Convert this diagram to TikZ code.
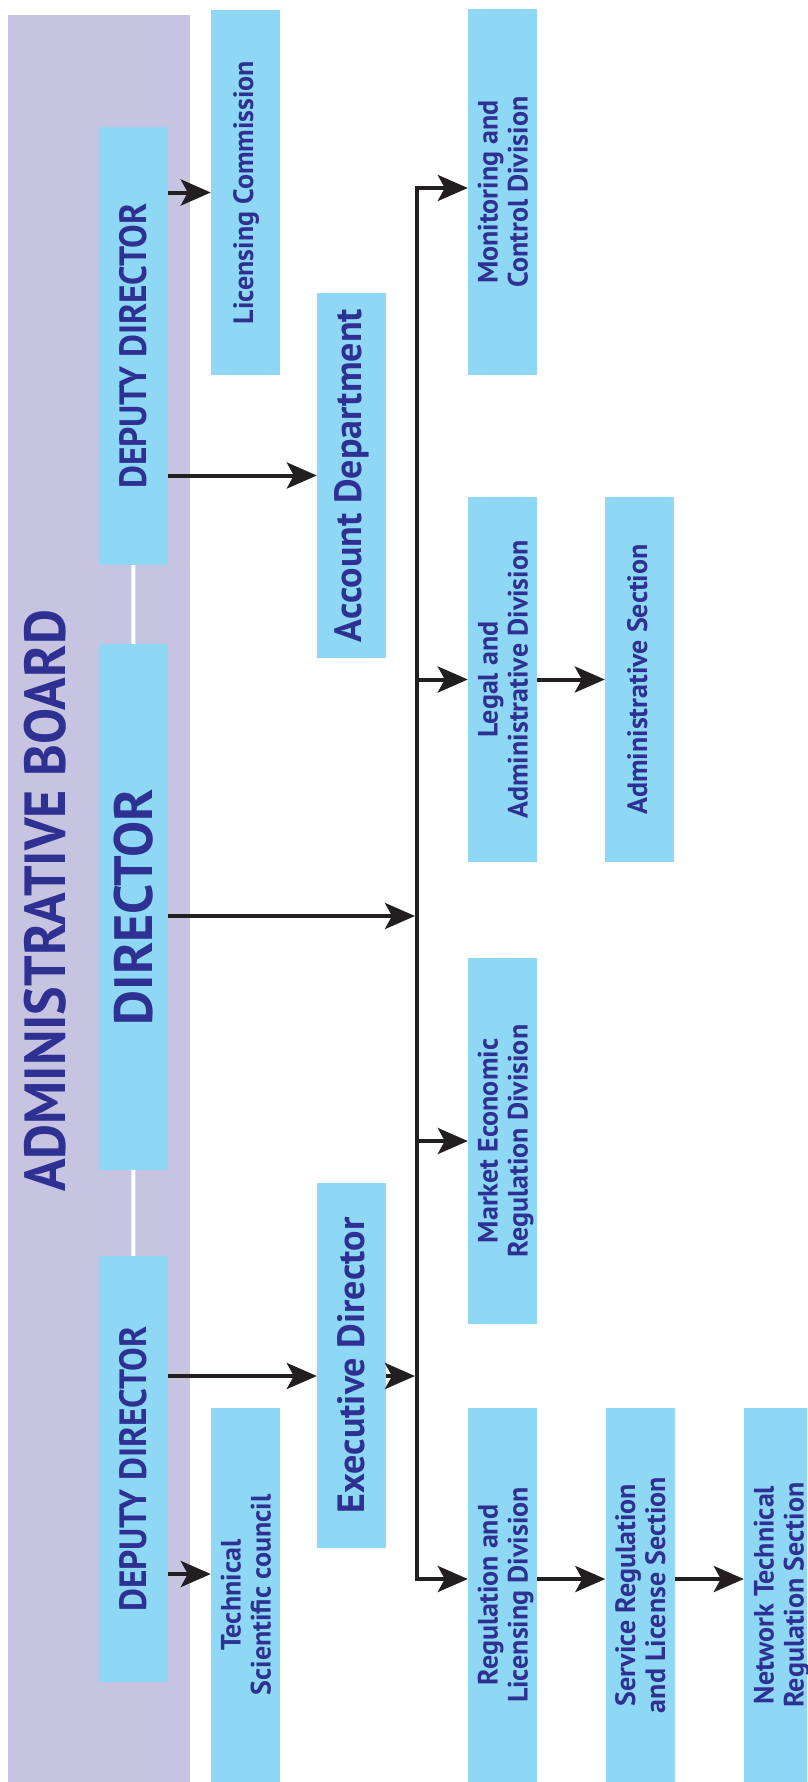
\documentclass[tikz,border=0pt]{standalone}
\usepackage{fontspec}
\setmainfont{PT Sans}
\usepackage{graphicx}
\usetikzlibrary{arrows.meta}
\definecolor{lav}{HTML}{C6C4E1}
\definecolor{boxblue}{HTML}{8ED8F6}
\definecolor{txtblue}{HTML}{2E3192}
\definecolor{arrowc}{HTML}{231F20}
\newcommand{\rtwo}[1]{\hspace*{8pt}\rotatebox{90}{\begin{tabular}{@{}c@{}}#1\end{tabular}}}
\newcommand{\rone}[1]{\hspace*{3pt}\rotatebox{90}{\begin{tabular}{@{}c@{}}#1\end{tabular}}}
\newcommand{\rbig}[1]{\rotatebox{90}{#1}}
\tikzset{
  orgbox/.style={fill=boxblue, text=txtblue, inner sep=0pt, minimum width=69pt, font=\bfseries\fontsize{28}{30}\selectfont},
  arr/.style={draw=arrowc, line width=4pt, -{Stealth[length=30pt,width=26pt,inset=7pt]}},
  busarr/.style={draw=arrowc, line width=4pt, line join=miter, {Stealth[length=30pt,width=26pt,inset=7pt]}-{Stealth[length=30pt,width=26pt,inset=7pt]}},
}
\begin{document}
\begin{tikzpicture}[x=1pt,y=-1pt]
\useasboundingbox (0,0) rectangle (807,1782);
\clip (0,0) rectangle (807,1782);
\fill[white] (0,0) rectangle (807,1782);
% board panel
\node[fill=lav, inner sep=0pt, minimum width=182pt, minimum height=1767pt] (panel) at (99,898.5) {};
\node[text=txtblue, inner sep=0pt, font=\bfseries\fontsize{58}{60}\selectfont] (board) at (45,901) {\rbig{\scalebox{0.93}[1]{ADMINISTRATIVE BOARD}}};
% directors
\node[orgbox, minimum height=438pt, font=\bfseries\fontsize{38}{40}\selectfont] (dep1) at (133.25,346) {\rbig{\scalebox{0.93}[1]{DEPUTY DIRECTOR}}};
\node[orgbox, minimum height=526pt, font=\bfseries\fontsize{54}{56}\selectfont] (dir) at (133.5,907) {\rbig{DIRECTOR}};
\node[orgbox, minimum height=426pt, font=\bfseries\fontsize{38}{40}\selectfont] (dep2) at (133.25,1469) {\rbig{\scalebox{0.93}[1]{DEPUTY DIRECTOR}}};
\draw[white, line width=4pt] (dep1.south) -- (dir.north);
\draw[white, line width=4pt] (dir.south) -- (dep2.north);
% second column
\node[orgbox, minimum height=365pt] (lic) at (245.5,192.5) {\rone{Licensing Commission}};
\node[orgbox, minimum height=374pt] (tech) at (245.5,1595) {\rtwo{Technical\\Scientific council}};
% third column
\node[orgbox, minimum height=365pt, font=\bfseries\fontsize{38}{40}\selectfont] (acc) at (351.5,475.5) {\rbig{Account Department}};
\node[orgbox, minimum height=365pt, font=\bfseries\fontsize{38}{40}\selectfont] (exec) at (351.5,1365.5) {\rbig{Executive Director}};
% divisions
\node[orgbox, minimum height=365pt] (mon) at (502.5,192) {\rtwo{Monitoring and\\Control Division}};
\node[orgbox, minimum height=365pt] (legal) at (502.5,679.5) {\rtwo{Legal and\\Administrative Division}};
\node[orgbox, minimum height=366pt] (mkt) at (502.5,1141) {\rtwo{Market Economic\\Regulation Division}};
\node[orgbox, minimum height=374pt] (reg) at (502.5,1595) {\rtwo{Regulation and\\Licensing Division}};
% sections
\node[orgbox, minimum height=365pt] (adm) at (639.5,679.5) {\rone{Administrative Section}};
\node[orgbox, minimum height=374pt] (svc) at (640,1595) {\rtwo{Service Regulation\\and License Section}};
\node[orgbox, minimum height=374pt] (net) at (778.5,1595) {\rtwo{Network Technical\\Regulation Section}};
% junction points
\coordinate (bt) at (417,188);
\coordinate (bb) at (417,1579);
\coordinate (dirj) at (415,916);
\coordinate (exj) at (415,1376);
\coordinate (tj) at (211,1574);
% connectors
\draw[arr] (dep1.east |- lic.west) -- (lic.west);
\draw[arr] (dep1.east |- acc.west) -- (acc.west);
\draw[arr] (dir.east |- dirj) -- (dirj);
\draw[arr] (dep2.east |- exj) -- (exec.west |- exj);
\draw[arr] (exec.east |- exj) -- (exj);
\draw[arr] (dep2.east |- tj) -- (tech.west |- tj);
\draw[busarr] (mon.west |- bt) -- (bt) -- (bb) -- (reg.west |- bb);
\draw[arr] (bt |- legal.west) -- (legal.west);
\draw[arr] (bt |- mkt.west) -- (mkt.west);
\draw[arr] (legal.east) -- (adm.west);
\draw[arr] (reg.east |- bb) -- (svc.west |- bb);
\draw[arr] (svc.east |- bb) -- (net.west |- bb);
\end{tikzpicture}
\end{document}
